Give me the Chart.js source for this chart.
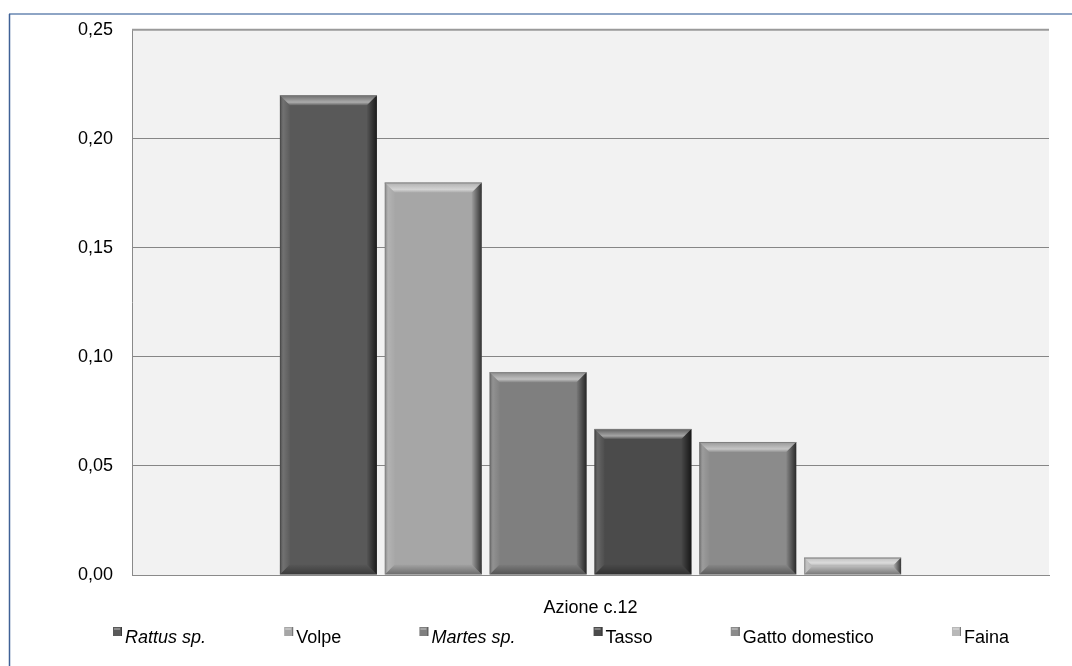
<!DOCTYPE html>
<html>
<head>
<meta charset="utf-8">
<script src="https://cdn.jsdelivr.net/npm/chart.js@4.4.1/dist/chart.umd.min.js"></script>
<style>
  html, body { margin: 0; padding: 0; background: #ffffff; }
  #wrap { width: 1072px; height: 666px; position: relative; }
</style>
</head>
<body>
<div id="wrap"><canvas id="c" width="1072" height="666"></canvas></div>
<script>
// Chart data
const categories = ['Azione c.12'];
const speciesNames = ['Rattus sp.', 'Volpe', 'Martes sp.', 'Tasso', 'Gatto domestico', 'Faina'];
const speciesValues = [0.22, 0.18, 0.093, 0.067, 0.061, 0.008];
const speciesItalic = [true, false, true, false, false, false];
const speciesColors = ['#595959', '#a6a6a6', '#7f7f7f', '#4b4b4b', '#8b8b8b', '#b8b8b8'];
const yTickValues = [0, 0.05, 0.10, 0.15, 0.20, 0.25];

const FONT_FAMILY = '"Liberation Sans", Arial, sans-serif';

// Outer frame and plot background
const framePlugin = {
  id: 'frame',
  beforeDraw(chart) {
    const ctx = chart.ctx;
    const a = chart.chartArea;
    ctx.save();
    ctx.fillStyle = '#ffffff';
    ctx.fillRect(0, 0, chart.width, chart.height);
    ctx.fillStyle = '#f2f2f2';
    ctx.fillRect(a.left, a.top, a.right - a.left, a.bottom - a.top);
    ctx.strokeStyle = '#8ea5c5';
    ctx.lineWidth = 2;
    ctx.beginPath();
    ctx.moveTo(9, 14);
    ctx.lineTo(chart.width, 14);
    ctx.stroke();
    ctx.strokeStyle = '#3f6196';
    ctx.lineWidth = 1.5;
    ctx.beginPath();
    ctx.moveTo(9.5, 14);
    ctx.lineTo(9.5, chart.height);
    ctx.stroke();
    ctx.restore();
  },
  afterDraw(chart) {
    // slightly heavier line along the top of the plot
    const ctx = chart.ctx;
    const a = chart.chartArea;
    ctx.save();
    ctx.strokeStyle = '#9a9a9a';
    ctx.lineWidth = 2;
    ctx.beginPath();
    ctx.moveTo(a.left, a.top);
    ctx.lineTo(a.right, a.top);
    ctx.stroke();
    ctx.restore();
  }
};

// Bevelled look on each bar, using the bar elements laid out by Chart.js
const bevelPlugin = {
  id: 'bevel',
  afterDatasetsDraw(chart) {
    const ctx = chart.ctx;
    chart.data.datasets.forEach((ds, i) => {
      const meta = chart.getDatasetMeta(i);
      meta.data.forEach(el => {
        const p = el.getProps(['x', 'y', 'base', 'width'], true);
        const L = p.x - p.width / 2, R = p.x + p.width / 2;
        const T = Math.min(p.y, p.base), B = Math.max(p.y, p.base);
        const h = B - T;
        if (h <= 0) return;
        const b = Math.min(10, h / 2.2, p.width / 4);
        ctx.save();
        // top bevel
        let g = ctx.createLinearGradient(0, T, 0, T + b);
        g.addColorStop(0, 'rgba(255,255,255,0.10)');
        g.addColorStop(0.7, 'rgba(255,255,255,0.50)');
        g.addColorStop(1, 'rgba(255,255,255,0.08)');
        ctx.fillStyle = g;
        ctx.beginPath();
        ctx.moveTo(L, T); ctx.lineTo(R, T); ctx.lineTo(R - b, T + b); ctx.lineTo(L + b, T + b);
        ctx.closePath(); ctx.fill();
        // bottom bevel
        g = ctx.createLinearGradient(0, B - b, 0, B);
        g.addColorStop(0, 'rgba(0,0,0,0.02)');
        g.addColorStop(1, 'rgba(0,0,0,0.35)');
        ctx.fillStyle = g;
        ctx.beginPath();
        ctx.moveTo(L, B); ctx.lineTo(R, B); ctx.lineTo(R - b, B - b); ctx.lineTo(L + b, B - b);
        ctx.closePath(); ctx.fill();
        // left bevel
        g = ctx.createLinearGradient(L, 0, L + b, 0);
        g.addColorStop(0, 'rgba(0,0,0,0.30)');
        g.addColorStop(0.35, 'rgba(255,255,255,0.14)');
        g.addColorStop(1, 'rgba(255,255,255,0.02)');
        ctx.fillStyle = g;
        ctx.beginPath();
        ctx.moveTo(L, T); ctx.lineTo(L + b, T + b); ctx.lineTo(L + b, B - b); ctx.lineTo(L, B);
        ctx.closePath(); ctx.fill();
        // right bevel
        g = ctx.createLinearGradient(R - b, 0, R, 0);
        g.addColorStop(0, 'rgba(0,0,0,0.04)');
        g.addColorStop(1, 'rgba(0,0,0,0.70)');
        ctx.fillStyle = g;
        ctx.beginPath();
        ctx.moveTo(R, T); ctx.lineTo(R, B); ctx.lineTo(R - b, B - b); ctx.lineTo(R - b, T + b);
        ctx.closePath(); ctx.fill();
        // thin top edge
        ctx.strokeStyle = 'rgba(125,125,125,0.95)';
        ctx.lineWidth = 1;
        ctx.beginPath();
        ctx.moveTo(L, T + 0.5); ctx.lineTo(R, T + 0.5);
        ctx.stroke();
        ctx.restore();
      });
    });
  }
};

// Legend row under the axis, with italic genus names
const legendRowPlugin = {
  id: 'legendRow',
  afterDraw(chart, args, opts) {
    const ctx = chart.ctx;
    const fonts = chart.data.datasets.map((ds, i) =>
      (speciesItalic[i] ? 'italic ' : '') + opts.fontSize + 'px ' + FONT_FAMILY);
    ctx.save();
    const widths = chart.data.datasets.map((ds, i) => {
      ctx.font = fonts[i];
      return ctx.measureText(ds.label).width;
    });
    const itemW = widths.map(w => opts.box + opts.boxGap + w);
    const total = itemW.reduce((s, w) => s + w, 0);
    const gap = (opts.right - opts.left - total) / (itemW.length - 1);
    let x = opts.left;
    chart.data.datasets.forEach((ds, i) => {
      const by = opts.baseline - opts.box - 7;
      ctx.fillStyle = ds.backgroundColor;
      ctx.fillRect(x, by, opts.box, opts.box);
      ctx.fillStyle = 'rgba(255,255,255,0.3)';
      ctx.fillRect(x + 1, by + 1, opts.box - 3, 2);
      ctx.fillStyle = 'rgba(0,0,0,0.35)';
      ctx.fillRect(x + opts.box - 1, by, 1, opts.box);
      ctx.font = fonts[i];
      ctx.fillStyle = '#000000';
      ctx.textBaseline = 'alphabetic';
      ctx.textAlign = 'left';
      ctx.fillText(ds.label, x + opts.box + opts.boxGap, opts.baseline);
      x += itemW[i] + gap;
    });
    ctx.restore();
  }
};

const datasets = speciesNames.map((name, i) => ({
  label: name,
  data: [speciesValues[i]],
  backgroundColor: speciesColors[i],
  borderWidth: 0,
  categoryPercentage: 0.686,
  barPercentage: 0.925
}));

new Chart(document.getElementById('c'), {
  type: 'bar',
  data: { labels: categories, datasets },
  plugins: [framePlugin, bevelPlugin, legendRowPlugin],
  options: {
    responsive: false,
    animation: false,
    devicePixelRatio: 1,
    layout: { padding: { left: 9, top: 28, right: 23, bottom: 46 } },
    plugins: {
      legend: { display: false },
      tooltip: { enabled: false },
      legendRow: { left: 113, right: 1009, baseline: 643, box: 9, boxGap: 3, fontSize: 18 }
    },
    scales: {
      x: {
        grid: { display: false, drawTicks: false },
        border: { display: true, color: '#8a8a8a', width: 1 },
        ticks: { color: '#000000', font: { family: FONT_FAMILY, size: 18 }, padding: 22 },
        afterFit(s) { s.height = 45; }
      },
      y: {
        min: 0,
        max: 0.25,
        afterBuildTicks(s) { s.ticks = yTickValues.map(v => ({ value: v })); },
        grid: { color: '#868686', lineWidth: 1, drawTicks: false },
        border: { display: true, color: '#8a8a8a', width: 1 },
        ticks: {
          color: '#000000',
          font: { family: FONT_FAMILY, size: 18 },
          padding: 19,
          callback: v => v.toFixed(2).replace('.', ',')
        },
        afterFit(s) { s.width = 123; }
      }
    }
  }
});
</script>
</body>
</html>
